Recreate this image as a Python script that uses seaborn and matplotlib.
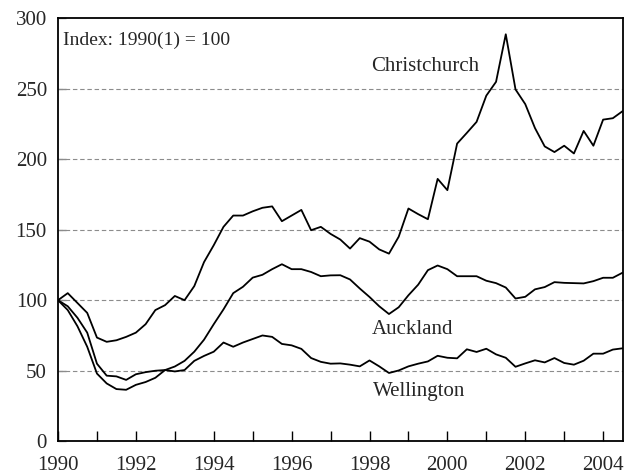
import numpy as np
import pandas as pd
import matplotlib
matplotlib.use("Agg")
import matplotlib.pyplot as plt
import seaborn as sns

# Quarterly index, 1990Q1 .. 2004Q3 (1990(1) = 100)
quarters = np.arange(1990.0, 2004.51, 0.25)

christchurch = [100, 105, 98, 91, 73.5, 70.5, 71.6, 74, 77, 83, 93, 96.5,
                103, 100, 110, 127, 139, 152, 160, 160, 163, 165.5, 166.5, 156,
                160, 164, 149.6, 152, 147, 143, 136.6, 144, 141.5, 136, 133, 145,
                165, 161, 157.4, 186, 178, 211, 218.6, 226.4, 245, 254.8, 288.5, 249.4,
                239, 222, 209, 205, 209.5, 204, 220, 209.5, 228, 229, 234]

auckland = [100, 93, 81.5, 67, 48, 41, 37, 36.5, 40, 42, 45, 50.5,
            53, 57, 63.5, 72, 83, 93.5, 105, 109.5, 116, 118, 122, 125.5,
            122, 122, 120, 117, 117.6, 117.7, 114.7, 108.3, 102.3, 95.7, 90.2, 95,
            103.5, 111, 121.3, 124.6, 122, 117, 117, 117, 113.8, 112.1, 109, 101.2,
            102.4, 107.7, 109.3, 112.8, 112.3, 112.1, 111.9, 113.5, 115.9, 115.9, 119.5]

wellington = [100, 95.7, 87.5, 77, 55, 46.5, 46, 43.5, 47.5, 49, 50, 50.5,
              49.5, 50.5, 57, 60.5, 63.5, 70, 67, 70, 72.5, 75, 74, 69,
              68, 65.5, 59, 56.3, 55, 55.2, 54.3, 53.1, 57.3, 53.1, 48.4, 50.2,
              53.1, 55, 56.6, 60.6, 59.2, 58.8, 65.2, 63.3, 65.6, 61.6, 59.2, 52.8,
              55.2, 57.4, 55.9, 59, 55.5, 54.3, 57.1, 62.1, 62.1, 65, 65.9]

cities = ["Christchurch", "Auckland", "Wellington"]
series = [christchurch, auckland, wellington]

df = pd.concat(
    [pd.DataFrame({"time": quarters, "index": vals, "city": c})
     for c, vals in zip(cities, series)],
    ignore_index=True,
)

sns.set_theme(style="white")
plt.rcParams["font.family"] = ["Liberation Serif", "DejaVu Serif"]

fig = plt.figure(figsize=(6.34, 4.75), dpi=100)
ax = fig.add_axes([0.0915, 0.071, 0.8905, 0.891])

sns.lineplot(data=df, x="time", y="index", hue="city",
             palette={c: "black" for c in cities}, legend=False,
             linewidth=1.3, ax=ax)

ax.set_xlim(1990, 2004.5)
ax.set_ylim(0, 300)
ax.set_xlabel("")
ax.set_ylabel("")

ax.set_yticks([0, 50, 100, 150, 200, 250, 300])
ax.set_xticks(np.arange(1990, 2005, 2))
ax.set_xticks(np.arange(1991, 2005, 2), minor=True)

for y in [50, 100, 150, 200, 250]:
    ax.axhline(y, color="#8c8c8c", linewidth=0.8, linestyle=(0, (4, 2.5)), zorder=0)

ax.tick_params(axis="x", which="both", direction="in", length=7, width=1,
               color="black", labelsize=15, pad=10.5, bottom=True, top=False)
ax.tick_params(axis="y", which="both", direction="in", length=6, width=1,
               color="#8c8c8c", labelsize=15, pad=8, left=True, right=False)

for s in ax.spines.values():
    s.set_visible(True)
    s.set_color("black")
    s.set_linewidth(1.3)

ax.text(1990.13, 284, "Index: 1990(1) = 100", fontsize=14, va="center", ha="left")
ax.text(1998.05, 266, "Christchurch", fontsize=15, va="center", ha="left")
ax.text(1998.05, 79, "Auckland", fontsize=15, va="center", ha="left")
ax.text(1998.1, 35, "Wellington", fontsize=15, va="center", ha="left")

fig.savefig("out.png", dpi=100)
